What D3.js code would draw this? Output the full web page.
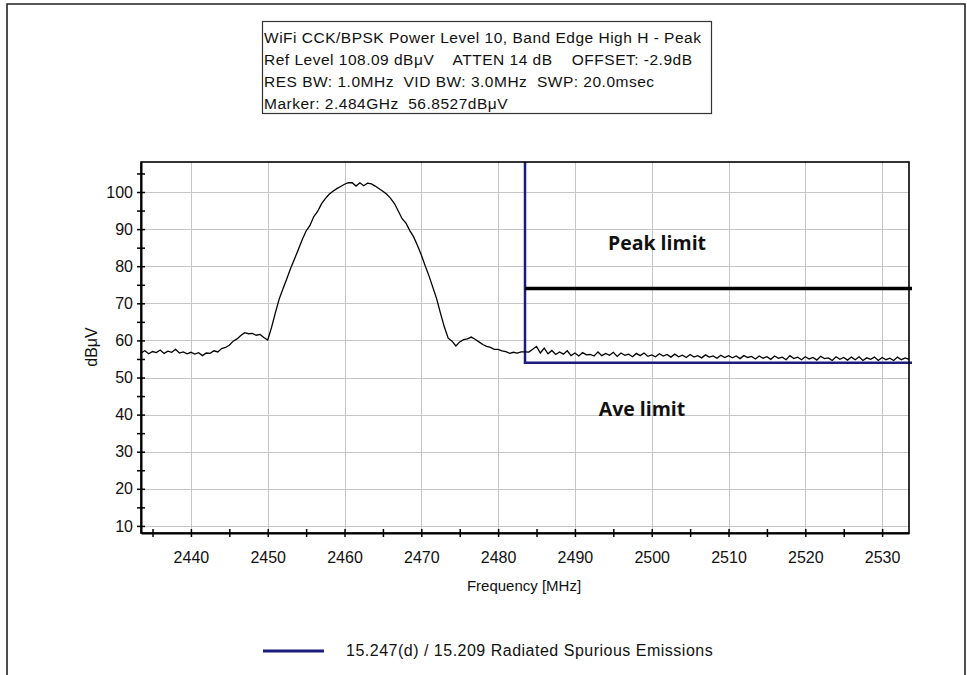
<!DOCTYPE html>
<html><head><meta charset="utf-8">
<script src="https://cdn.jsdelivr.net/npm/d3@7"></script>
<style>
html,body{margin:0;padding:0;background:#fff;}
svg{display:block;}
</style></head>
<body><svg id="chart" width="967" height="675"></svg>
<script>
// ---- data ----
const titleLines = [
  "WiFi CCK/BPSK Power Level 10, Band Edge High H - Peak",
  "Ref Level 108.09 dB\u03BCV    ATTEN 14 dB    OFFSET: -2.9dB",
  "RES BW: 1.0MHz  VID BW: 3.0MHz  SWP: 20.0msec",
  "Marker: 2.484GHz  56.8527dB\u03BCV"
];
const freqStart = 2433.5;      // MHz, sweep start
const freqStop = 2533.5;       // MHz, sweep stop
const refLevel = 108.09;       // dBuV, top of screen
const xTickValues = [2440, 2450, 2460, 2470, 2480, 2490, 2500, 2510, 2520, 2530];
const yTickValues = [10, 20, 30, 40, 50, 60, 70, 80, 90, 100];
// trace levels (dBuV), one reading every 0.5 MHz from freqStart to freqStop
const levels = [
  56.6,57.2,56.4,57.0,56.7,57.4,56.5,57.1,56.8,57.6,
  56.6,56.9,56.4,56.8,56.3,56.7,55.9,56.6,56.5,57.2,
  56.9,57.8,58.1,58.7,59.8,60.4,61.3,62.1,61.8,61.9,
  61.4,61.6,60.8,60.1,63.5,67.5,71.2,74.0,76.7,79.5,
  82.0,84.6,87.2,89.5,91.0,93.4,94.8,96.8,98.2,99.4,
  100.2,100.9,101.5,102.1,102.5,102.5,101.6,102.5,101.7,102.4,
  102.2,101.6,100.9,100.2,99.4,98.3,96.9,94.9,92.8,91.6,
  89.6,87.9,85.6,83.0,80.1,77.4,74.3,71.2,67.3,63.6,
  60.6,59.8,58.5,59.6,60.2,60.4,60.9,60.3,59.6,58.9,
  58.4,58.1,57.6,57.6,57.2,57.0,56.5,56.8,56.6,56.9,
  56.9,56.85,57.6,58.4,56.6,57.9,56.4,57.3,56.2,56.9,
  56.3,57.2,55.9,56.6,55.8,56.7,56.1,56.2,55.8,56.9,
  55.9,56.5,56.0,56.8,55.7,56.6,56.0,56.3,55.6,56.5,
  55.9,56.6,55.7,56.1,55.6,56.4,55.8,56.2,55.5,56.3,
  55.6,56.0,55.4,56.2,55.5,55.9,55.3,56.1,55.5,55.8,
  55.2,56.0,55.4,55.9,55.3,55.8,55.1,55.9,55.4,55.7,
  55.0,55.8,55.2,55.6,54.9,55.8,55.2,55.5,54.8,55.9,
  55.1,55.5,54.8,55.6,55.0,55.4,54.7,55.7,55.1,55.3,
  54.6,55.6,54.9,55.4,54.7,55.5,54.8,55.6,54.6,55.3,
  54.9,55.5,54.6,55.4,54.8,55.2,54.6,55.5,54.8,55.3,
  54.9
];
const bandEdge = 2483.5;       // MHz
const peakLimit = 74;          // dBuV
const aveLimit = 54;           // dBuV
const legendLabel = "15.247(d) / 15.209 Radiated Spurious Emissions";
const xLabel = "Frequency [MHz]";
const yLabel = "dB\u03BCV";

// ---- layout ----
const SANS = "'Liberation Sans', Arial, sans-serif";
const svg = d3.select("#chart").style("font-family", SANS);
const L = 141, R = 909, T = 162, B = 533;
const x = d3.scaleLinear().domain([freqStart, freqStop]).range([L, R]);
const y = d3.scaleLinear().domain([refLevel - 100, refLevel]).range([B, T]);
const step = (freqStop - freqStart) / (levels.length - 1);
const trace = levels.map((v, i) => ({f: freqStart + i * step, v}));

// outer frame
svg.append("path").attr("d", "M7,680 V4 H965 V680")
  .attr("fill", "none").attr("stroke", "#222").attr("stroke-width", 1.6);

// title box
svg.append("rect").attr("x", 262.5).attr("y", 21.5).attr("width", 449).attr("height", 92)
  .attr("fill", "#fff").attr("stroke", "#333").attr("stroke-width", 1.2);
svg.append("g").selectAll("text").data(titleLines).join("text")
  .attr("x", 264).attr("y", (d, i) => 43 + i * 22)
  .style("font-family", SANS).style("font-size", "15.5px").style("letter-spacing", "0.5px")
  .style("white-space", "pre").attr("fill", "#111").text(d => d);

// grid
const grid = svg.append("g").attr("stroke", "#c6c6c6").attr("stroke-width", 1);
grid.selectAll(".gx").data(xTickValues).join("line")
  .attr("x1", d => Math.round(x(d)) + 0.5).attr("x2", d => Math.round(x(d)) + 0.5)
  .attr("y1", T).attr("y2", B);
grid.selectAll(".gy").data(yTickValues).join("line")
  .attr("y1", d => Math.round(y(d)) + 0.5).attr("y2", d => Math.round(y(d)) + 0.5)
  .attr("x1", L).attr("x2", R);

// limits
svg.append("path")
  .attr("d", `M${x(bandEdge)},${T} V${y(aveLimit)} H${R + 3}`)
  .attr("fill", "none").attr("stroke", "#1c1c7c").attr("stroke-width", 2.5);
svg.append("line")
  .attr("x1", x(bandEdge)).attr("x2", R + 3).attr("y1", y(peakLimit)).attr("y2", y(peakLimit))
  .attr("stroke", "#000").attr("stroke-width", 3.5);

// trace
svg.append("path").datum(trace)
  .attr("d", d3.line().x(d => x(d.f)).y(d => y(d.v)))
  .attr("fill", "none").attr("stroke", "#000").attr("stroke-width", 1.3);

// plot frame
svg.append("rect").attr("x", L).attr("y", T).attr("width", R - L).attr("height", B - T)
  .attr("fill", "none").attr("stroke", "#000").attr("stroke-width", 1.6);

// axes
const yAxis = d3.axisLeft(y).tickValues(d3.range(10, 106, 5))
  .tickSizeInner(4).tickSizeOuter(0).tickPadding(4)
  .tickFormat(d => d % 10 === 0 ? d : "");
const gy = svg.append("g").attr("transform", `translate(${L},0)`).call(yAxis);
gy.select(".domain").attr("stroke", "#000").attr("stroke-width", 2);
gy.selectAll(".tick line").attr("x1", -4).attr("x2", 4).attr("stroke", "#000").attr("stroke-width", 1.5);
gy.selectAll(".tick text").attr("fill", "#111")
  .style("font-family", SANS).style("font-size", "16px");

const xAxis = d3.axisBottom(x).tickValues(d3.range(2435, 2534, 5))
  .tickSizeInner(4).tickSizeOuter(0)
  .tickFormat(d => d % 10 === 0 ? d : "");
const gx = svg.append("g").attr("transform", `translate(0,${B})`).call(xAxis);
gx.select(".domain").attr("stroke", "#000").attr("stroke-width", 2);
gx.selectAll(".tick line").attr("y1", -4).attr("y2", 4).attr("stroke", "#000").attr("stroke-width", 1.5);
gx.selectAll(".tick text").attr("fill", "#111").attr("y", 19)
  .style("font-family", SANS).style("font-size", "16px");

// axis titles
svg.append("text").attr("x", 524).attr("y", 591).attr("text-anchor", "middle")
  .style("font-family", SANS).style("font-size", "15px").attr("fill", "#111").text(xLabel);
svg.append("text").attr("transform", "translate(97,347) rotate(-90)")
  .attr("text-anchor", "middle").style("font-family", SANS).style("font-size", "16px")
  .attr("fill", "#111").text(yLabel);

// annotations
const BOLD = "'Open Sans', 'Noto Sans', sans-serif";
svg.append("text").attr("x", 657).attr("y", 250).attr("text-anchor", "middle")
  .style("font-family", BOLD).style("font-weight", 700).style("font-size", "19.5px")
  .attr("fill", "#111").text("Peak limit");
svg.append("text").attr("x", 642).attr("y", 416).attr("text-anchor", "middle")
  .style("font-family", BOLD).style("font-weight", 700).style("font-size", "19.5px")
  .attr("fill", "#111").text("Ave limit");

// legend
svg.append("line").attr("x1", 263).attr("x2", 324).attr("y1", 651).attr("y2", 651)
  .attr("stroke", "#1c1c7c").attr("stroke-width", 3);
svg.append("text").attr("x", 346).attr("y", 656)
  .style("font-family", SANS).style("font-size", "16px").style("letter-spacing", "0.5px")
  .attr("fill", "#111").text(legendLabel);
</script></body></html>
